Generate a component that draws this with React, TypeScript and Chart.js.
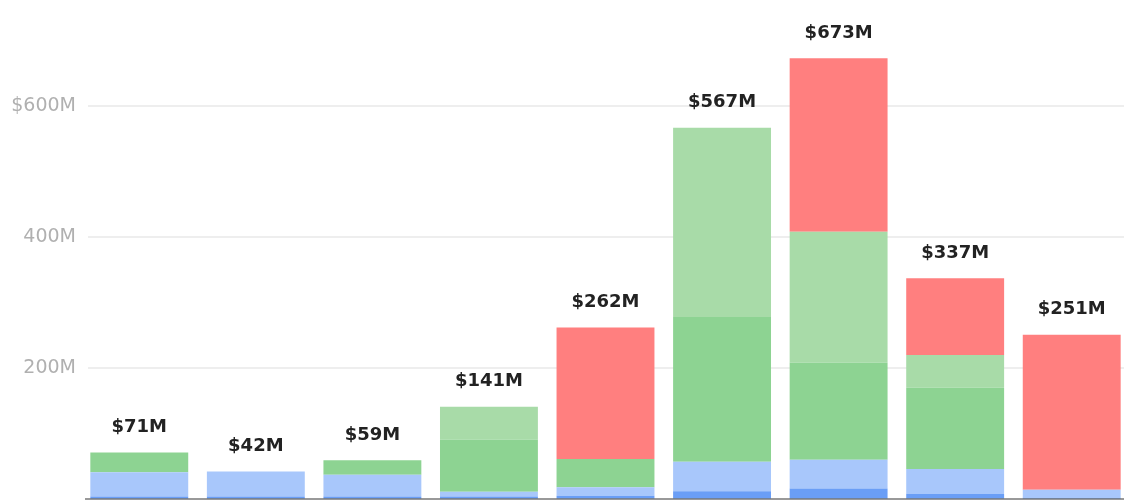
import React, { useEffect, useRef } from "react";
import { Chart, registerables } from "chart.js";

Chart.register(...registerables);

const categories = ["1", "2", "3", "4", "5", "6", "7", "8", "9"];
const darkBlue = [4, 4, 4, 4, 5, 12, 16, 8, 2];
const lightBlue = [37, 38, 33, 7, 13, 45, 44, 38, 12];
const green = [30, 0, 22, 80, 43, 221, 148, 124, 0];
const lightGreen = [0, 0, 0, 50, 0, 289, 200, 50, 0];
const red = [0, 0, 0, 0, 201, 0, 265, 117, 237];
const yTicks = [0, 200, 400, 600];

const seriesList = [
  { label: "Series A", data: darkBlue, color: "#6a9ef6" },
  { label: "Series B", data: lightBlue, color: "#a8c7fb" },
  { label: "Series C", data: green, color: "#8dd392" },
  { label: "Series D", data: lightGreen, color: "#a8dba8" },
  { label: "Series E", data: red, color: "#ff7f7f" },
];

const FONT = "'DejaVu Sans', Verdana, sans-serif";

const gridPlugin = {
  id: "customGrid",
  beforeDatasetsDraw(chart: any) {
    const { ctx, chartArea, scales } = chart;
    const y = scales.y;
    ctx.save();
    ctx.strokeStyle = "#e8e8e8";
    ctx.lineWidth = 1.5;
    yTicks.forEach((v) => {
      if (v === 0) return;
      const py = y.getPixelForValue(v);
      ctx.beginPath();
      ctx.moveTo(chartArea.left + 7, py);
      ctx.lineTo(chartArea.right - 6, py);
      ctx.stroke();
    });
    ctx.restore();
  },
  afterDatasetsDraw(chart: any) {
    const { ctx, chartArea, scales } = chart;
    const y = scales.y;
    ctx.save();
    ctx.strokeStyle = "#777777";
    ctx.lineWidth = 1.5;
    const py = y.getPixelForValue(0);
    ctx.beginPath();
    ctx.moveTo(chartArea.left + 4, py);
    ctx.lineTo(chartArea.right - 6, py);
    ctx.stroke();

    const meta = chart.getDatasetMeta(0);
    ctx.fillStyle = "#222222";
    ctx.font = `bold 18px ${FONT}`;
    ctx.textAlign = "center";
    ctx.textBaseline = "middle";
    categories.forEach((_, i) => {
      const total = seriesList.reduce((s, d) => s + d.data[i], 0);
      const x = meta.data[i].x;
      const ty = y.getPixelForValue(total) - 25;
      ctx.fillText(`$${total}M`, x, ty);
    });
    ctx.restore();
  },
};

export default function App() {
  const ref = useRef<HTMLCanvasElement | null>(null);

  useEffect(() => {
    if (!ref.current) return;
    const chart = new Chart(ref.current, {
      type: "bar",
      data: {
        labels: categories,
        datasets: seriesList.map((s) => ({
          label: s.label,
          data: s.data,
          backgroundColor: s.color,
          borderWidth: 0,
          categoryPercentage: 0.84,
          barPercentage: 1,
        })),
      },
      options: {
        responsive: false,
        animation: false,
        layout: { padding: { left: 0, right: 10, top: 0, bottom: 1 } },
        plugins: {
          legend: { display: false },
          tooltip: { enabled: false },
        },
        scales: {
          x: {
            stacked: true,
            display: false,
          },
          y: {
            stacked: true,
            min: 0,
            max: 762,
            grid: { display: false, drawTicks: false },
            border: { display: false },
            afterBuildTicks: (scale: any) => {
              scale.ticks = yTicks.map((v) => ({ value: v }));
            },
            afterFit: (scale: any) => {
              scale.width = 81;
              scale.paddingTop = 0;
              scale.paddingBottom = 0;
            },
            ticks: {
              padding: 5,
              color: "#b0b0b0",
              font: { family: FONT, size: 19 },
              callback: (value: any, index: number, ticks: any[]) => {
                if (value === 0) return "";
                return index === ticks.length - 1 ? `$${value}M` : `${value}M`;
              },
            },
          },
        },
      },
      plugins: [gridPlugin],
    });
    return () => chart.destroy();
  }, []);

  return (
    <div style={{ position: "fixed", left: 0, top: 0, width: 1140, height: 500, background: "#fff" }}>
      <canvas ref={ref} width={1140} height={500} style={{ display: "block" }} />
    </div>
  );
}
